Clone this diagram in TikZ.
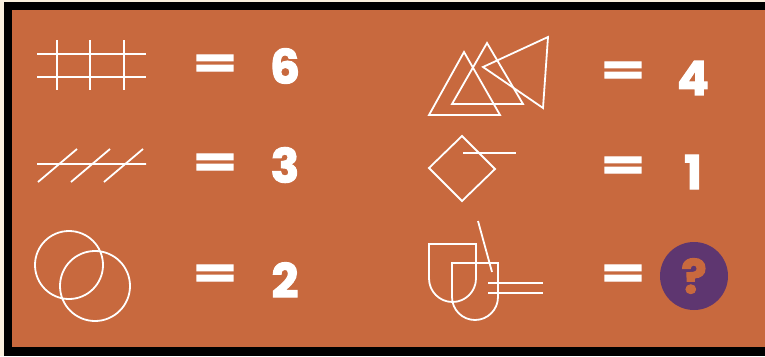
\documentclass[tikz,border=0pt]{standalone}
\usepackage{fontspec}
\setmainfont{Poppins}[BoldFeatures={FakeBold=2.5}]
\definecolor{bg}{RGB}{200,105,62}
\definecolor{qpurple}{RGB}{94,54,112}
\definecolor{cream}{RGB}{250,240,222}
\begin{document}
\begin{tikzpicture}[x=1pt,y=-1pt,
  stroke/.style={white, line width=1.8pt},
  num/.style={text=white, font=\bfseries\fontsize{47}{47}\selectfont, inner sep=0pt},
  eqs/.style={text=white, font=\bfseries\fontsize{47}{47}\selectfont, inner sep=0pt, xscale=1.35, yscale=0.85}]
\useasboundingbox (0,0) rectangle (765,356);
\fill[cream] (0,0) rectangle (765,356);
\fill[black] (4,2) rectangle (765,356);
\fill[bg] (12,10) rectangle (765,347);
% grid
\draw[stroke] (37,54) -- (146,54) (37,77) -- (146,77)
  (57,40) -- (57,90) (90,40) -- (90,90) (124,40) -- (124,90);
% slashes
\draw[stroke] (37,164) -- (146,164)
  (38,182) -- (77,149) (71,182) -- (110,149) (104,182) -- (143,149);
% circles
\draw[stroke] (69,265) circle (34) (95,286) circle (35);
% triangles
\draw[stroke] (464,52) -- (429,115) -- (500,115) -- cycle;
\draw[stroke] (487,43) -- (452,104) -- (523,104) -- cycle;
\draw[stroke] (483,67) -- (548,37) -- (543,108) -- cycle;
% diamond
\draw[stroke] (462,136) -- (495,169) -- (462,201) -- (429,168) -- cycle;
\draw[stroke] (463,153) -- (516,153);
% shields
\draw[stroke] (429,278.5) -- (429,244) -- (476,244) -- (476,278.5) arc[start angle=0, end angle=180, x radius=23.5, y radius=23.5];
\draw[stroke] (452,297) -- (452,263) -- (498,263) -- (498,297) arc[start angle=0, end angle=180, x radius=23, y radius=23];
\draw[stroke] (478,221) -- (492,272);
\draw[stroke] (488,283) -- (543,283) (488,293) -- (543,293);
% equals
\node[eqs] (e1) at (215,66) {=};
\node[eqs] (e2) at (215,165) {=};
\node[eqs] (e3) at (215,276) {=};
\node[eqs] (e4) at (623,73) {=};
\node[eqs] (e5) at (623,168) {=};
\node[eqs] (e6) at (623,276) {=};
% numbers
\node[num] (n1) at (285,66) {6};
\node[num] (n2) at (285,165) {3};
\node[num] (n3) at (285,280) {2};
\node[num] (n4) at (693,78) {4};
\node[num] (n5) at (693,172) {1};
\node[circle, fill=qpurple, minimum size=68pt, inner sep=0pt] (q) at (694,276) {};
\node[num, text=bg] (qm) at (q.center) {?};
\end{tikzpicture}
\end{document}
